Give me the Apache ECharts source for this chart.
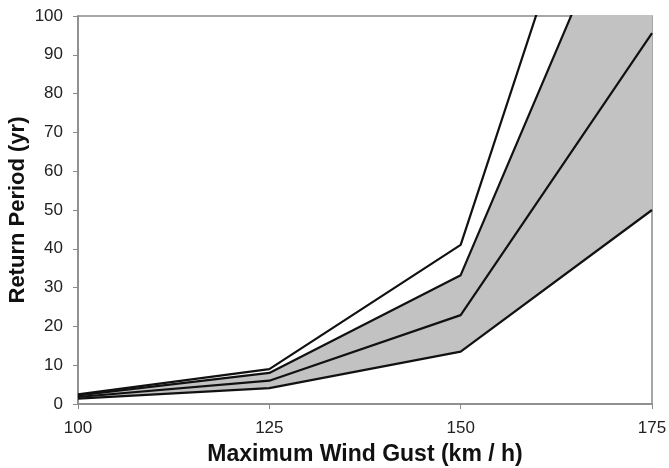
<!DOCTYPE html>
<html>
<head>
<meta charset="utf-8">
<script src="https://cdn.jsdelivr.net/npm/echarts@6/dist/echarts.min.js"></script>
<style>html,body{margin:0;padding:0;background:#fff}#c{width:669px;height:468px}</style>
</head>
<body>
<div id="c"></div>
<script>
// Maximum wind gust (km/h)
const gust = ['100', '125', '150', '175'];
// Return period curves (yr)
const lineA = [2.5, 9.0, 41.0, 191];      // top separate curve
const upperBound = [2.2, 8.0, 33.2, 149]; // upper edge of shaded band
const median = [1.8, 6.0, 22.9, 95.6];    // middle curve
const lowerBound = [1.4, 4.1, 13.5, 50.0]; // lower edge of shaded band
const yTicks = [0, 10, 20, 30, 40, 50, 60, 70, 80, 90, 100];

const bandDiff = upperBound.map((u, i) => u - lowerBound[i]);

const lineStyle = { color: '#111', width: 2.2 };
const font = 'Arial, "Liberation Sans", sans-serif';

const chart = echarts.init(document.getElementById('c'), null, { renderer: 'canvas' });
chart.setOption({
  animation: false,
  backgroundColor: '#fff',
  grid: { left: 78, right: 17, top: 16, bottom: 64, outerBoundsMode: 'none', containLabel: false,
    show: true, borderColor: '#8a8a8a', borderWidth: 1.5, backgroundColor: 'transparent' },
  xAxis: {
    type: 'category', data: gust, boundaryGap: false,
    name: 'Maximum Wind Gust (km / h)', nameLocation: 'middle', nameGap: 39,
    nameTextStyle: { fontFamily: font, fontWeight: 'bold', fontSize: 23, color: '#111' },
    axisLine: { show: true, lineStyle: { color: '#8a8a8a', width: 1.5 } },
    axisTick: { show: true, inside: false, length: 5, lineStyle: { color: '#8a8a8a' } },
    axisLabel: { fontFamily: font, fontSize: 17, color: '#222', margin: 16 },
    splitLine: { show: false }
  },
  yAxis: {
    type: 'value', min: 0, max: 100, interval: 10,
    name: 'Return Period (yr)', nameLocation: 'middle', nameGap: 49, nameMoveOverlap: false,
    nameTextStyle: { fontFamily: font, fontWeight: 'bold', fontSize: 22, color: '#111' },
    axisLine: { show: true, lineStyle: { color: '#8a8a8a', width: 1.5 } },
    axisTick: { show: true, inside: false, length: 5, lineStyle: { color: '#8a8a8a' } },
    axisLabel: { fontFamily: font, fontSize: 17, color: '#222', margin: 15,
      formatter: v => yTicks.includes(v) ? String(v) : '' },
    splitLine: { show: false }
  },
  series: [
    { type: 'line', data: lowerBound, stack: 'band', symbol: 'none', silent: true,
      lineStyle: { opacity: 0 }, areaStyle: { opacity: 0 } },
    { type: 'line', data: bandDiff, stack: 'band', symbol: 'none', silent: true,
      lineStyle: { opacity: 0 }, areaStyle: { color: '#c2c2c2', opacity: 1 } },
    { type: 'line', data: lineA, symbol: 'none', lineStyle },
    { type: 'line', data: upperBound, symbol: 'none', lineStyle },
    { type: 'line', data: median, symbol: 'none', lineStyle },
    { type: 'line', data: lowerBound, symbol: 'none', lineStyle }
  ]
});
</script>
</body>
</html>
